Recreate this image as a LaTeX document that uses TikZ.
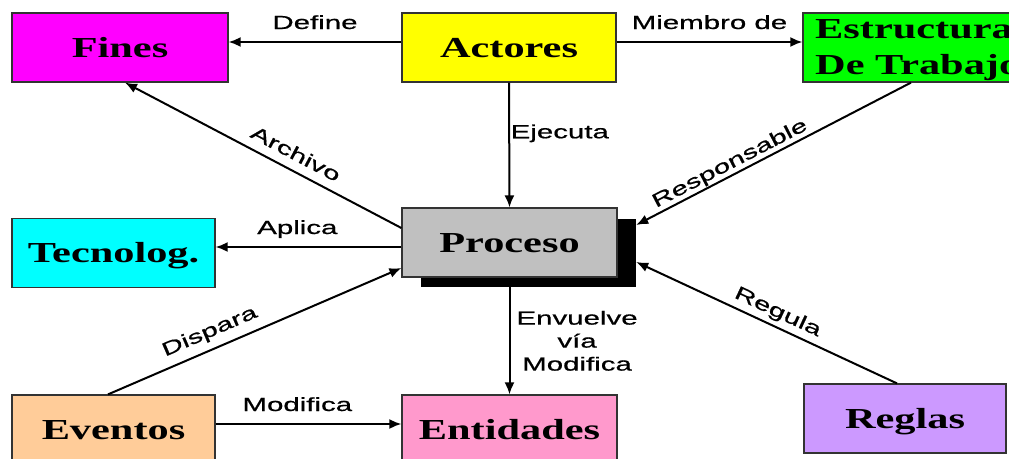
\documentclass[tikz,border=0pt]{standalone}
\usepackage{fontspec}
\setmainfont{Liberation Serif}
\newfontfamily\boxfont{Liberation Serif}[FakeStretch=1.46]
\newfontfamily\lblfont{Liberation Sans}[FakeStretch=1.55,FakeBold=0.7]
\usetikzlibrary{arrows.meta,calc}
\definecolor{cFines}{HTML}{FF00FF}
\definecolor{cAct}{HTML}{FFFF00}
\definecolor{cEstr}{HTML}{00FF00}
\definecolor{cTec}{HTML}{00FFFF}
\definecolor{cProc}{HTML}{C0C0C0}
\definecolor{cEv}{HTML}{FFCC99}
\definecolor{cEnt}{HTML}{FF99CC}
\definecolor{cReg}{HTML}{CC99FF}
\begin{document}
\begin{tikzpicture}[x=1pt,y=-1pt,
  box/.style={draw=black!80, line width=1.2pt, minimum height=69pt, inner sep=0pt,
    font=\boxfont\bfseries\fontsize{29}{34}\selectfont, text height=19.3pt, text depth=0pt},
  boxtxt/.style={inner sep=0pt, font=\boxfont\bfseries\fontsize{29}{36}\selectfont},
  arr/.style={line width=2pt, -{Latex[length=12pt,width=10pt]}},
  lblbase/.style={font=\lblfont\fontsize{19}{23}\selectfont, inner sep=2pt},
  lbl/.style={lblbase, text height=14pt, text depth=0pt},
]
\useasboundingbox (0,0) rectangle (1009,458);
\fill[white] (0,0) rectangle (1009,458);
\clip (0,0) rectangle (1009,458);

% shadow of Proceso
\node[fill=black, minimum width=215pt, minimum height=68pt, inner sep=0pt] (procsh) at (528.5,253) {};

\node[box, fill=cFines, minimum width=216pt] (fines) at (120,47.5) {Fines};
\node[box, fill=cAct, minimum width=214pt] (act) at (509,47.5) {Actores};
\node[box, fill=cEstr, minimum width=232pt] (estr) at (919,47.5) {};
\node[boxtxt, anchor=base west] (estr1) at (815,38) {Estructura};
\node[boxtxt, anchor=base west] (estr2) at (815,74) {De Trabajo};
\node[box, fill=cTec, minimum width=203pt] (tec) at (113.5,253) {Tecnolog.};
\node[box, fill=cProc, minimum width=215pt] (proc) at (509.5,242.5) {Proceso};
\node[box, fill=cEv, minimum width=203pt] (ev) at (113.5,429.5) {Eventos};
\node[box, fill=cEnt, minimum width=215pt] (ent) at (509.5,429.5) {Entidades};
\node[box, fill=cReg, minimum width=202pt] (reg) at (905,418.5) {Reglas};

\draw[arr] ($(act.west)+(0,-5.5)$) -- ($(fines.east)+(0,-5.5)$)
  node[lbl, midway, above=10pt] {Define};
\draw[arr] ($(act.east)+(0,-5.5)$) -- ($(estr.west)+(0,-5.5)$)
  node[lbl, midway, above=10pt] {Miembro de};
\draw[arr] (act.south) -- (proc.north)
  node[lbl, pos=0.39, anchor=west, inner xsep=0.5pt] {Ejecuta};
\draw[arr] ($(proc.west)+(0,-14.5)$) -- ($(fines.south)+(5,0)$)
  node[lbl, pos=0.41, sloped, above=7pt] {Archivo};
\draw[arr] ($(estr.south)+(-8,0)$) -- ($(procsh.east)+(0,-28)$)
  node[lbl, pos=0.64, sloped, above=3pt] {Responsable};
\draw[arr] ($(proc.west |- tec.east)+(0,-6)$) -- ($(tec.east)+(0,-6)$)
  node[lbl, pos=0.56, above=10pt] {Aplica};
\draw[arr] ($(ev.north)+(-5.5,0)$) -- ($(proc.west)+(0,25.5)$)
  node[lbl, pos=0.37, sloped, above=9pt] {Dispara};
\draw[arr] ($(ev.east)+(0,-5.5)$) -- ($(ent.west)+(0,-5.5)$)
  node[lbl, pos=0.44, above=10pt] {Modifica};
\draw[arr] (proc.south |- procsh.south) -- (ent.north)
  node[lblbase, midway, anchor=west, xshift=4pt, align=center] {Envuelve\\vía\\Modifica};
\draw[arr] ($(reg.north)+(-8,0)$) -- ($(procsh.east)+(0,9)$)
  node[lbl, pos=0.48, sloped, above=6pt] {Regula};
\end{tikzpicture}
\end{document}
